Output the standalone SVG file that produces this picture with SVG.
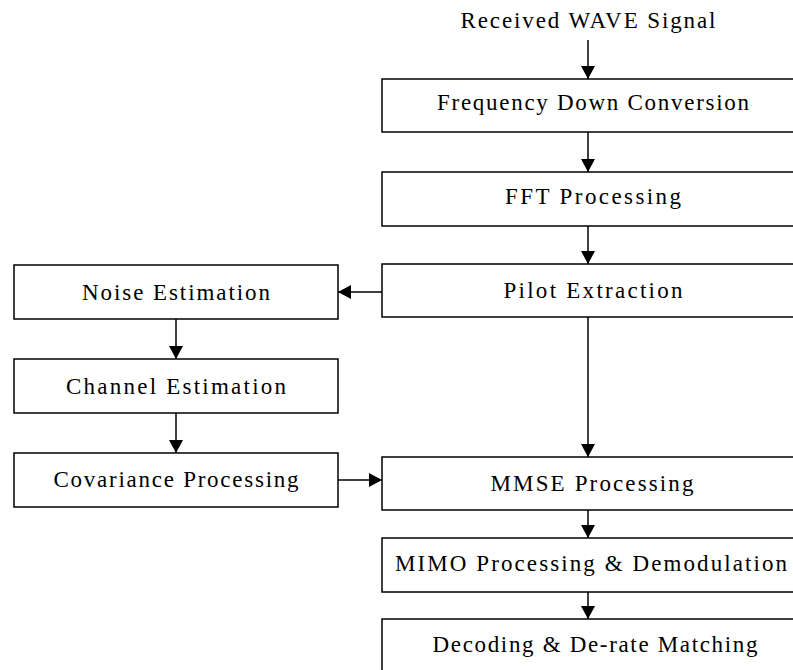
<svg xmlns="http://www.w3.org/2000/svg" width="793" height="670" viewBox="0 0 793 670">
<style>
.box{fill:#fff;stroke:#000;stroke-width:1.5}
.t{font-family:"Liberation Serif","Times New Roman",serif;font-size:23px;fill:#000;text-anchor:middle}
.c{stroke:#000;stroke-width:1.5;fill:none}
</style>
<defs>
<marker id="ah" markerUnits="userSpaceOnUse" markerWidth="16" markerHeight="14" viewBox="0 0 16 14" refX="13" refY="7" orient="auto">
<path d="M0,0 L13,7 L0,14 Z" fill="#000"/>
</marker>
</defs>
<rect width="793" height="670" fill="#fff"/>
<g id="input"><text class="t" x="588" y="28" textLength="255" lengthAdjust="spacing">Received WAVE Signal</text></g>
<g id="freq"><rect class="box" x="382" y="79" width="422" height="53"/><text class="t" x="593" y="110" textLength="312" lengthAdjust="spacing">Frequency Down Conversion</text></g>
<g id="fft"><rect class="box" x="382" y="172" width="422" height="54"/><text class="t" x="593" y="204" textLength="176" lengthAdjust="spacing">FFT Processing</text></g>
<g id="pilot"><rect class="box" x="382" y="264" width="422" height="53"/><text class="t" x="593" y="298" textLength="179" lengthAdjust="spacing">Pilot Extraction</text></g>
<g id="noise"><rect class="box" x="14" y="265" width="324" height="54"/><text class="t" x="176" y="300" textLength="188" lengthAdjust="spacing">Noise Estimation</text></g>
<g id="channel"><rect class="box" x="14" y="359" width="324" height="54"/><text class="t" x="176" y="394" textLength="220" lengthAdjust="spacing">Channel Estimation</text></g>
<g id="cov"><rect class="box" x="14" y="453" width="324" height="54"/><text class="t" x="176" y="487" textLength="245" lengthAdjust="spacing">Covariance Processing</text></g>
<g id="mmse"><rect class="box" x="382" y="457" width="422" height="53"/><text class="t" x="592" y="491" textLength="203" lengthAdjust="spacing">MMSE Processing</text></g>
<g id="mimo"><rect class="box" x="382" y="538" width="422" height="54"/><text class="t" x="591" y="571" textLength="392" lengthAdjust="spacing">MIMO Processing &amp; Demodulation</text></g>
<g id="decode"><rect class="box" x="382" y="619" width="422" height="60"/><text class="t" x="595" y="652" textLength="325" lengthAdjust="spacing">Decoding &amp; De-rate Matching</text></g>
<g id="connectors">
<line class="c" x1="588" y1="40" x2="588" y2="79" marker-end="url(#ah)"/>
<line class="c" x1="588" y1="132" x2="588" y2="172" marker-end="url(#ah)"/>
<line class="c" x1="588" y1="226" x2="588" y2="264" marker-end="url(#ah)"/>
<line class="c" x1="382" y1="292" x2="338" y2="292" marker-end="url(#ah)"/>
<line class="c" x1="176" y1="319" x2="176" y2="359" marker-end="url(#ah)"/>
<line class="c" x1="176" y1="413" x2="176" y2="453" marker-end="url(#ah)"/>
<line class="c" x1="338" y1="480" x2="382" y2="480" marker-end="url(#ah)"/>
<line class="c" x1="588" y1="317" x2="588" y2="457" marker-end="url(#ah)"/>
<line class="c" x1="588" y1="510" x2="588" y2="538" marker-end="url(#ah)"/>
<line class="c" x1="588" y1="592" x2="588" y2="619" marker-end="url(#ah)"/>
</g>
</svg>
